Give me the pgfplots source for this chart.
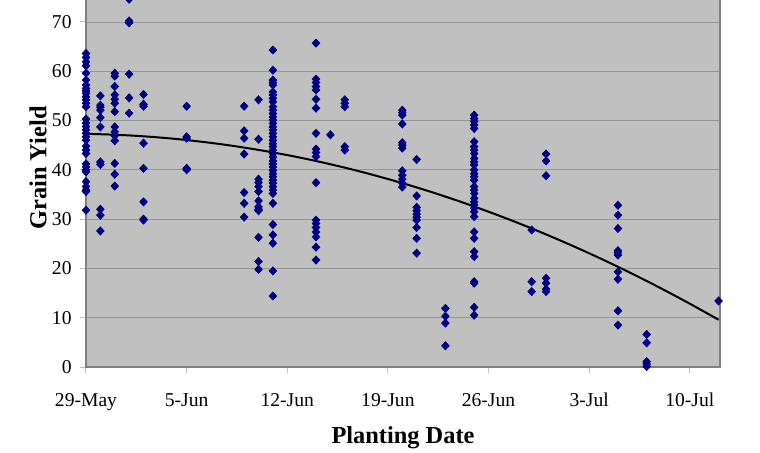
\documentclass[border=0pt]{standalone}
\usepackage{fontspec}
\setmainfont{Liberation Serif}
\usepackage{pgfplots}
\usepackage{pgfplotstable}
\pgfplotsset{compat=1.18}
\definecolor{plotbg}{RGB}{192,192,192}
\definecolor{gridc}{RGB}{150,150,150}
\definecolor{navy}{RGB}{0,0,128}
\pgfplotstableread{
x y
0 63.6
0 62.8
0 61.9
0 61.1
0 59.6
0 58.2
0 57.2
0 56.5
0 56.0
0 55.5
0 54.8
0 54.2
0 53.5
0 52.8
0 50.3
0 49.5
0 48.8
0 48.1
0 47.4
0 46.7
0 46.0
0 44.8
0 44.0
0 43.3
0 41.2
0 40.6
0 40.0
0 39.6
0 37.6
0 36.6
0 35.9
0 35.6
0 31.8
1 55.0
1 53.1
1 52.7
1 52.1
1 50.6
1 48.7
1 41.6
1 41.1
1 32.0
1 30.8
1 27.6
2 59.6
2 59.0
2 56.9
2 55.2
2 54.3
2 53.5
2 51.8
2 48.7
2 47.7
2 46.9
2 45.9
2 41.3
2 39.1
2 36.7
3 74.6
3 69.8
3 70.2
3 59.4
3 54.6
3 51.5
4 55.3
4 53.3
4 52.9
4 45.4
4 40.3
4 33.5
4 30.0
4 29.8
7 52.9
7 46.7
7 46.4
7 40.3
7 40.0
11 52.9
11 47.9
11 46.4
11 43.2
11 35.4
11 33.2
11 30.4
12 54.2
12 46.2
12 38.1
12 37.4
12 36.6
12 35.6
12 33.7
12 32.5
12 32.0
12 31.7
12 26.3
12 21.4
12 19.8
13 64.3
13 60.2
13 58.2
13 57.7
13 57.2
13 55.8
13 55.2
13 54.5
13 53.8
13 52.8
13 52.1
13 51.4
13 50.7
13 50.1
13 49.4
13 48.7
13 48.1
13 47.4
13 46.7
13 46.0
13 45.3
13 44.7
13 44.0
13 43.3
13 42.6
13 41.8
13 41.2
13 40.6
13 39.9
13 39.2
13 38.6
13 37.9
13 37.3
13 36.6
13 35.9
13 35.2
13 33.2
13 28.9
13 26.8
13 25.1
13 19.5
13 14.4
16 65.7
16 58.4
16 57.7
16 56.9
16 56.2
16 54.3
16 52.5
16 47.4
16 44.2
16 43.5
16 42.7
16 37.4
16 29.8
16 29.1
16 28.3
16 27.4
16 26.4
16 24.3
16 21.7
17 47.1
18 54.2
18 53.5
18 52.8
18 44.7
18 44.0
22 52.1
22 51.6
22 51.1
22 49.3
22 45.5
22 45.0
22 44.4
22 39.8
22 38.9
22 38.1
22 37.3
22 36.5
23 42.1
23 34.7
23 32.4
23 31.7
23 31.0
23 30.4
23 29.8
23 28.3
23 26.1
23 23.1
25 11.9
25 10.3
25 8.9
25 4.3
27 51.1
27 50.4
27 49.8
27 49.1
27 48.4
27 45.7
27 44.7
27 44.0
27 43.3
27 42.3
27 41.6
27 41.0
27 40.0
27 39.2
27 38.6
27 37.9
27 36.6
27 35.9
27 35.2
27 34.2
27 33.5
27 32.9
27 32.2
27 31.5
27 30.5
27 27.4
27 26.1
27 23.4
27 22.4
27 17.3
27 17.0
27 12.1
27 10.5
31 27.8
31 17.3
31 15.3
32 43.2
32 41.8
32 38.8
32 18.0
32 17.0
32 15.8
32 15.3
37 32.8
37 30.8
37 28.1
37 23.6
37 23.2
37 22.7
37 19.3
37 17.8
37 11.4
37 8.5
39 6.6
39 4.9
39 1.1
39 0.6
39 0.1
44 13.4
}\yielddata
\pgfplotstableread{
x y
0 47.30
2 47.12
4 46.80
6 46.33
8 45.71
10 44.95
12 44.04
14 42.99
16 41.79
18 40.44
20 38.94
22 37.30
24 35.52
26 33.58
28 31.50
30 29.28
32 26.90
34 24.38
36 21.72
38 18.91
40 15.95
42 12.84
44 9.59
}\trenddata
\begin{document}
\begin{tikzpicture}
\path[use as bounding box, clip] (-43pt,-42.5pt) rectangle (337pt,183.5pt);
\begin{axis}[
  at={(0,0)}, anchor=south west,
  scale only axis,
  width=317pt, height=197.2pt,
  xmin=0, xmax=44.1,
  ymin=0, ymax=80,
  axis background/.style={fill=plotbg},
  axis line style={draw=gray, line width=0.6pt},
  xtick={0,7,14,21,28,35,42},
  xticklabels={29-May,5-Jun,12-Jun,19-Jun,26-Jun,3-Jul,10-Jul},
  ytick={0,10,20,30,40,50,60,70},
  ymajorgrids,
  major grid style={draw=gridc, line width=0.4pt},
  tick align=outside,
  tick pos=left,
  major tick length=3pt,
  major tick style={draw=gray!50, line width=0.5pt},
  /pgf/number format/assume math mode=true,
  tick label style={font=\fontsize{9.8}{11}\selectfont},
  xticklabel style={anchor=base, yshift=-16.5pt},
  yticklabel style={anchor=east, inner sep=0pt, xshift=-4pt},
  xlabel={Planting Date},
  ylabel={Grain Yield},
  label style={font=\fontsize{12.2}{14}\bfseries},
  xlabel style={at={(axis description cs:0.5,-0.1927)}, anchor=base},
  ylabel style={at={(axis description cs:-0.0757,0.5046)}, anchor=center},
  clip=true,
]
\addplot[only marks, mark=diamond*, mark size=2pt,
  mark options={draw=navy, fill=navy, xscale=1.25}] table[x=x,y=y] {\yielddata};
\addplot[black, line width=1pt, smooth] table[x=x,y=y] {\trenddata};
\end{axis}
\end{tikzpicture}
\end{document}
